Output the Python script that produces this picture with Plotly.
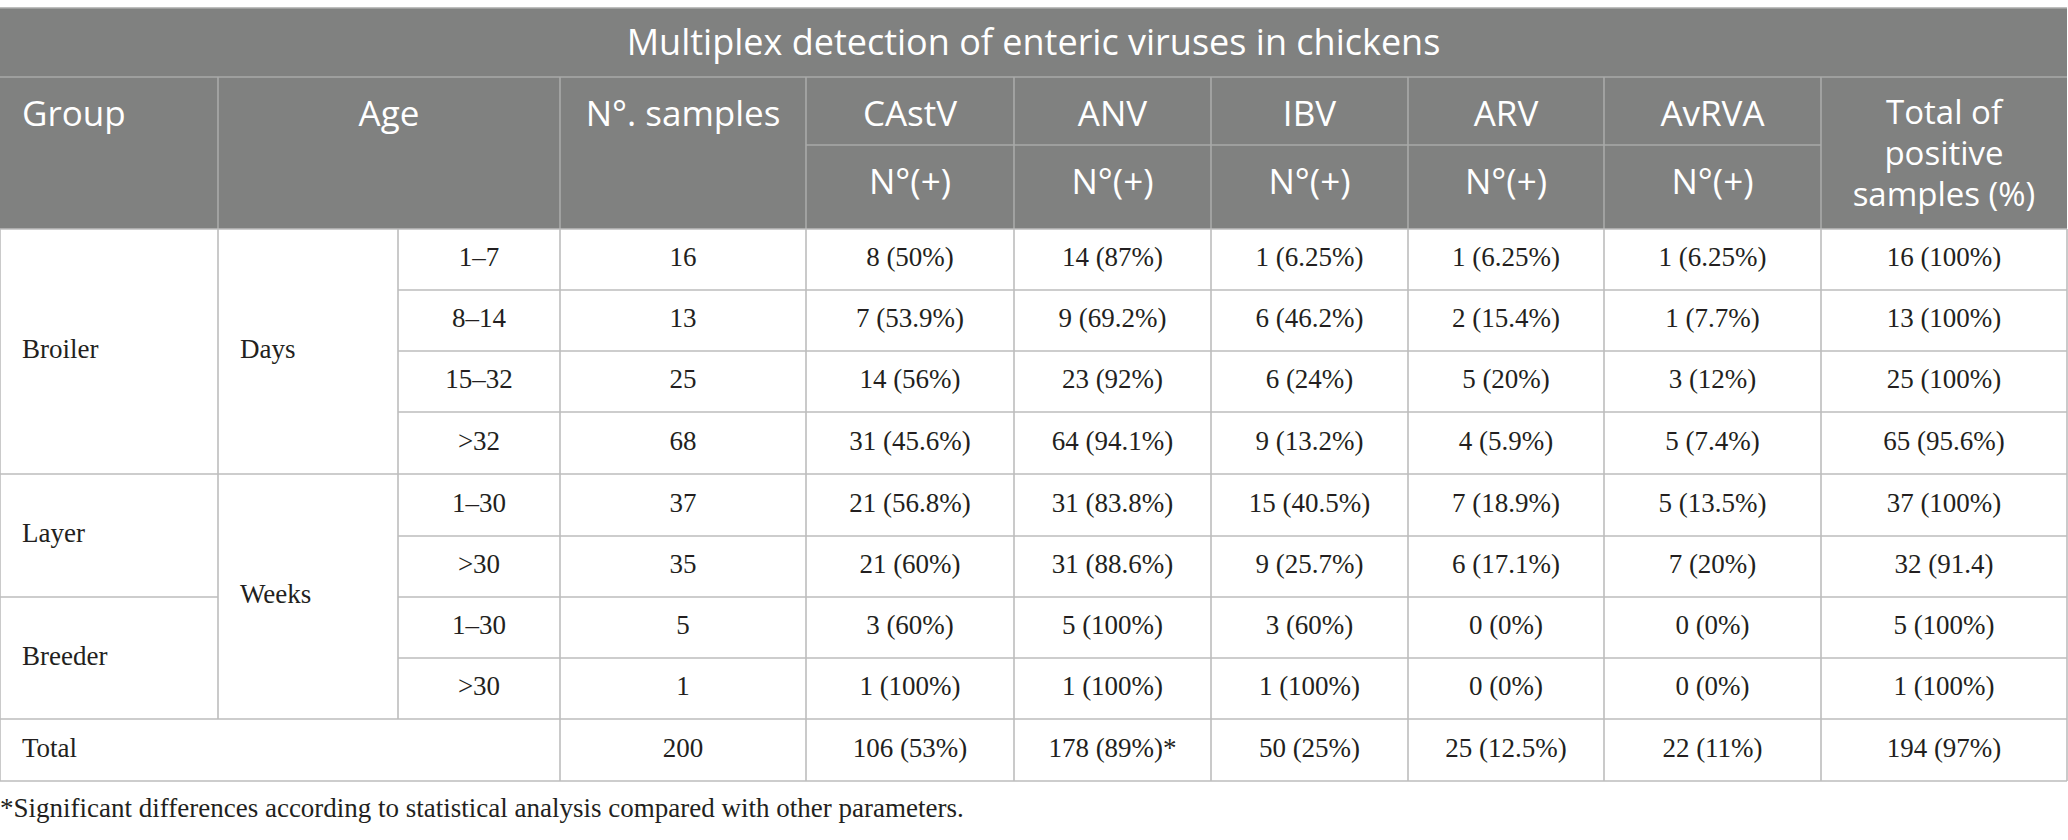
import plotly.graph_objects as go

title = "Multiplex detection of enteric viruses in chickens"
viruses = ["CAstV", "ANV", "IBV", "ARV", "AvRVA"]
sub_label = "N°(+)"
total_head = ["Total of", "positive", "samples (%)"]
groups = ["Broiler", "Layer", "Breeder"]
group_rows = [4, 2, 2]
age_units = ["Days", "Weeks"]
unit_rows = [4, 4]
age_ranges = ["1–7", "8–14", "15–32", ">32", "1–30", ">30", "1–30", ">30"]
n_samples = [16, 13, 25, 68, 37, 35, 5, 1]
castv = ["8 (50%)", "7 (53.9%)", "14 (56%)", "31 (45.6%)", "21 (56.8%)", "21 (60%)", "3 (60%)", "1 (100%)"]
anv = ["14 (87%)", "9 (69.2%)", "23 (92%)", "64 (94.1%)", "31 (83.8%)", "31 (88.6%)", "5 (100%)", "1 (100%)"]
ibv = ["1 (6.25%)", "6 (46.2%)", "6 (24%)", "9 (13.2%)", "15 (40.5%)", "9 (25.7%)", "3 (60%)", "1 (100%)"]
arv = ["1 (6.25%)", "2 (15.4%)", "5 (20%)", "4 (5.9%)", "7 (18.9%)", "6 (17.1%)", "0 (0%)", "0 (0%)"]
avrva = ["1 (6.25%)", "1 (7.7%)", "3 (12%)", "5 (7.4%)", "5 (13.5%)", "7 (20%)", "0 (0%)", "0 (0%)"]
total_pos = ["16 (100%)", "13 (100%)", "25 (100%)", "65 (95.6%)", "37 (100%)", "32 (91.4)", "5 (100%)", "1 (100%)"]
total_label = "Total"
total_row = ["200", "106 (53%)", "178 (89%)*", "50 (25%)", "25 (12.5%)", "22 (11%)", "194 (97%)"]
footnote = "*Significant differences according to statistical analysis compared with other parameters."

# ---- layout / styles ----
W, H = 2068, 840
xs = [0, 218, 398, 560, 806, 1014, 1211, 1408, 1604, 1821, 2067]   # column edges
ys = [8, 77, 145, 229, 290, 351, 412, 474, 536, 597, 658, 719, 781]  # row edges
HEAD_BG = "#808180"
HEAD_LINE = "#a9aaa9"
BODY_LINE = "#bdbdbd"
SANS = "Open Sans"
SERIF = "Liberation Serif"
TXT = "#231f20"
PAD = 22
HEAD_DY = 6        # header text sits a little low in its row
LINE_GAP = 41      # line spacing of the wrapped header cell

def mid(a, b):
    return (a + b) / 2

fig = go.Figure()

# header background
fig.add_shape(type="rect", x0=xs[0], x1=xs[-1], y0=ys[0], y1=ys[3],
              fillcolor=HEAD_BG, line_width=0, layer="below")

# grid lines: (x0, x1, y0, y1, colour)
segs = []
segs.append((xs[0], xs[-1], ys[0], ys[0], HEAD_LINE))
segs.append((xs[0], xs[-1], ys[1], ys[1], HEAD_LINE))
segs.append((xs[4], xs[9], ys[2], ys[2], HEAD_LINE))
for x in [xs[1]] + xs[3:10]:
    segs.append((x, x, ys[1], ys[3], HEAD_LINE))
segs.append((xs[0], xs[-1], ys[3], ys[3], BODY_LINE))

# body horizontals
grp_bounds = [3]
for n in group_rows:
    grp_bounds.append(grp_bounds[-1] + n)
unit_bounds = [3]
for n in unit_rows:
    unit_bounds.append(unit_bounds[-1] + n)
for r in range(4, 12):
    x_start = xs[2]
    if r in unit_bounds:
        x_start = xs[0]
    elif r in grp_bounds:
        segs.append((xs[0], xs[1], ys[r], ys[r], BODY_LINE))
    segs.append((x_start, xs[-1], ys[r], ys[r], BODY_LINE))
segs.append((xs[0], xs[-1], ys[12], ys[12], BODY_LINE))
# body verticals
segs.append((xs[0], xs[0], ys[3], ys[12], BODY_LINE))
segs.append((xs[-1], xs[-1], ys[3], ys[12], BODY_LINE))
segs.append((xs[1], xs[1], ys[3], ys[11], BODY_LINE))
segs.append((xs[2], xs[2], ys[3], ys[11], BODY_LINE))
for x in xs[3:10]:
    segs.append((x, x, ys[3], ys[12], BODY_LINE))

for x0, x1, y0, y1, c in segs:
    fig.add_shape(type="line", x0=x0, x1=x1, y0=y0, y1=y1,
                  line=dict(color=c, width=1.6), layer="above")

def text_trace(x, y, t, pos, font):
    fig.add_trace(go.Scatter(x=x, y=y, text=t, mode="text", textposition=pos,
                             textfont=font, hoverinfo="skip", showlegend=False))

head_font = dict(family=SANS, size=35, color="white")
wrap_font = dict(family=SANS, size=33, color="white")
body_font = dict(family=SERIF, size=27, color=TXT)

# header
text_trace([mid(xs[0], xs[-1])], [mid(ys[0], ys[1]) + 3], [title], "middle center",
           dict(family=SANS, size=36, color="white"))
hy = mid(ys[1], ys[2]) + HEAD_DY
text_trace([xs[0] + PAD], [hy], ["Group"], "middle right", head_font)
text_trace([mid(xs[1], xs[3]), mid(xs[3], xs[4])], [hy, hy], ["Age", "N°. samples"],
           "middle center", head_font)
vx = [mid(xs[4 + i], xs[5 + i]) for i in range(len(viruses))]
text_trace(vx, [hy] * len(viruses), viruses, "middle center", head_font)
text_trace(vx, [mid(ys[2], ys[3]) - 2] * len(viruses), [sub_label] * len(viruses),
           "middle center", head_font)
tc = mid(ys[1], ys[3]) + 4
for k, line in enumerate(total_head):
    text_trace([mid(xs[9], xs[10])], [tc + (k - 1) * LINE_GAP], [line], "middle center", wrap_font)

# body: merged group / unit cells
gy = [mid(ys[grp_bounds[i]], ys[grp_bounds[i + 1]]) for i in range(len(groups))]
text_trace([xs[0] + PAD] * len(groups), gy, groups, "middle right", body_font)
uy = [mid(ys[unit_bounds[i]], ys[unit_bounds[i + 1]]) for i in range(len(age_units))]
text_trace([xs[1] + PAD] * len(age_units), uy, age_units, "middle right", body_font)

# body: per-row columns
ry = [mid(ys[3 + i], ys[4 + i]) for i in range(len(age_ranges))]
cols = [age_ranges, [str(v) for v in n_samples], castv, anv, ibv, arv, avrva, total_pos]
for j, col in enumerate(cols):
    cx = mid(xs[2 + j], xs[3 + j])
    text_trace([cx] * len(col), ry, col, "middle center", body_font)

# total row
ty = mid(ys[11], ys[12])
text_trace([xs[0] + PAD], [ty], [total_label], "middle right", body_font)
text_trace([mid(xs[3 + j], xs[4 + j]) for j in range(len(total_row))], [ty] * len(total_row),
           total_row, "middle center", body_font)

# footnote
text_trace([xs[0]], [810], [footnote], "middle right", dict(family=SERIF, size=27, color=TXT))

fig.update_layout(width=W, height=H, margin=dict(l=0, r=0, t=0, b=0),
                  paper_bgcolor="white", plot_bgcolor="white")
fig.update_xaxes(range=[0, W], visible=False, fixedrange=True)
fig.update_yaxes(range=[H, 0], visible=False, fixedrange=True)

fig.write_html("out.html", config={"displayModeBar": False},
               post_script="document.body.style.margin='0';")
